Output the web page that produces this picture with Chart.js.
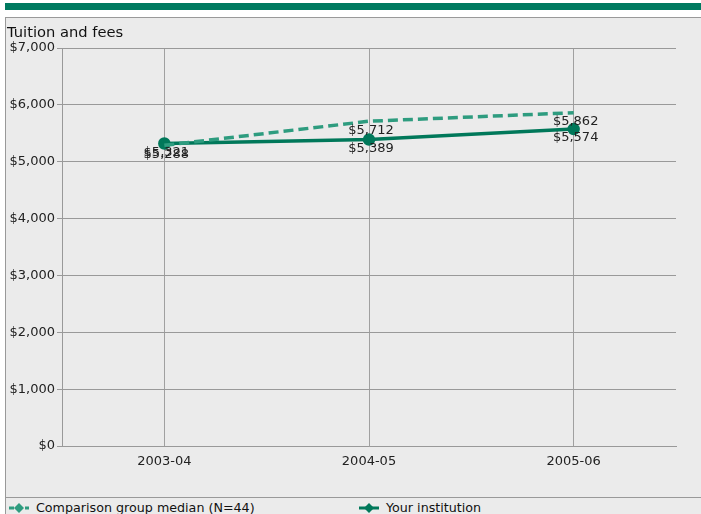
<!DOCTYPE html>
<html>
<head>
<meta charset="utf-8">
<script src="https://cdn.jsdelivr.net/npm/chart.js@4"></script>
<style>
  body { margin: 0; background: #fff; font-family: "DejaVu Sans", Verdana, sans-serif; }
  #bar { position: absolute; left: 5px; top: 3px; width: 696px; height: 7px; background: #007a60; }
  #box { position: absolute; left: 5px; top: 17px; width: 695px; height: 497px;
         border-left: 1px solid #999; border-top: 1px solid #999; background: #ebebeb; }
  #title { position: absolute; left: 1px; top: 5px; font-size: 14.7px; color: #111; }
  #wrap { position: absolute; left: 0; top: 0; width: 695px; height: 479px; border-bottom: 1px solid #999; }
  .leg { position: absolute; top: 482px; font-size: 12.7px; color: #111; white-space: nowrap; }
  .leg svg { vertical-align: -2px; margin-right: 6px; }
</style>
</head>
<body>
<div id="bar"></div>
<div id="box">
  <div id="wrap"><canvas id="c" width="695" height="479"></canvas></div>
  <div id="title">Tuition and fees</div>
  <div class="leg" style="left:2px">
    <svg width="22" height="12"><line x1="1" y1="6" x2="21" y2="6" stroke="#2e9c7f" stroke-width="3" stroke-dasharray="5,3"/><polygon points="11,1 16,6 11,11 6,6" fill="#2e9c7f"/></svg>Comparison group median (N=44)
  </div>
  <div class="leg" style="left:352px">
    <svg width="22" height="12"><line x1="1" y1="6" x2="21" y2="6" stroke="#00785a" stroke-width="3"/><polygon points="11,1 16,6 11,11 6,6" fill="#00785a"/></svg>Your institution
  </div>
</div>
<script>
const categories = ['2003-04', '2004-05', '2005-06'];
const comparisonMedian = [5288, 5712, 5862];
const yourInstitution = [5321, 5389, 5574];
const yTicks = [0, 1000, 2000, 3000, 4000, 5000, 6000, 7000];

const money = v => '$' + v.toLocaleString('en-US');

const valueLabels = {
  id: 'valueLabels',
  afterDatasetsDraw(chart) {
    const ctx = chart.ctx;
    ctx.save();
    ctx.font = '13px "DejaVu Sans"';
    ctx.fillStyle = '#222';
    ctx.textAlign = 'center';
    ctx.textBaseline = 'middle';
    chart.data.datasets.forEach((ds, i) => {
      chart.getDatasetMeta(i).data.forEach((pt, j) => {
        ctx.fillText(money(ds.data[j]), pt.x + 2, pt.y + 9);
      });
    });
    ctx.restore();
  }
};

new Chart(document.getElementById('c'), {
  type: 'line',
  data: {
    labels: categories,
    datasets: [
      {
        label: 'Comparison group median (N=44)',
        data: comparisonMedian,
        borderColor: '#2e9c7f',
        backgroundColor: '#2e9c7f',
        borderWidth: 3.5,
        borderDash: [10, 5],
        pointRadius: 0,
        tension: 0
      },
      {
        label: 'Your institution',
        data: yourInstitution,
        borderColor: '#00785a',
        backgroundColor: '#00785a',
        borderWidth: 3.5,
        pointRadius: 4.5,
        tension: 0
      }
    ]
  },
  options: {
    responsive: false,
    animation: false,
    layout: { padding: { left: 0, right: 25, top: 30, bottom: 0 } },
    plugins: { legend: { display: false }, tooltip: { enabled: false } },
    scales: {
      x: {
        offset: true,
        grid: { color: '#a0a0a0', drawTicks: false, offset: false },
        border: { color: '#999' },
        ticks: { color: '#222', font: { family: 'DejaVu Sans', size: 13 }, padding: 8 },
        afterFit(s) { s.height = 51; }
      },
      y: {
        min: 0,
        max: 7000,
        afterBuildTicks(s) { s.ticks = yTicks.map(v => ({ value: v })); },
        grid: { color: '#999', tickLength: 5 },
        border: { color: '#999' },
        ticks: { color: '#222', font: { family: 'DejaVu Sans', size: 13 }, padding: 2,
                 callback: v => money(v) },
        afterFit(s) { s.width = 56; }
      }
    }
  },
  plugins: [valueLabels]
});
</script>
</body>
</html>
